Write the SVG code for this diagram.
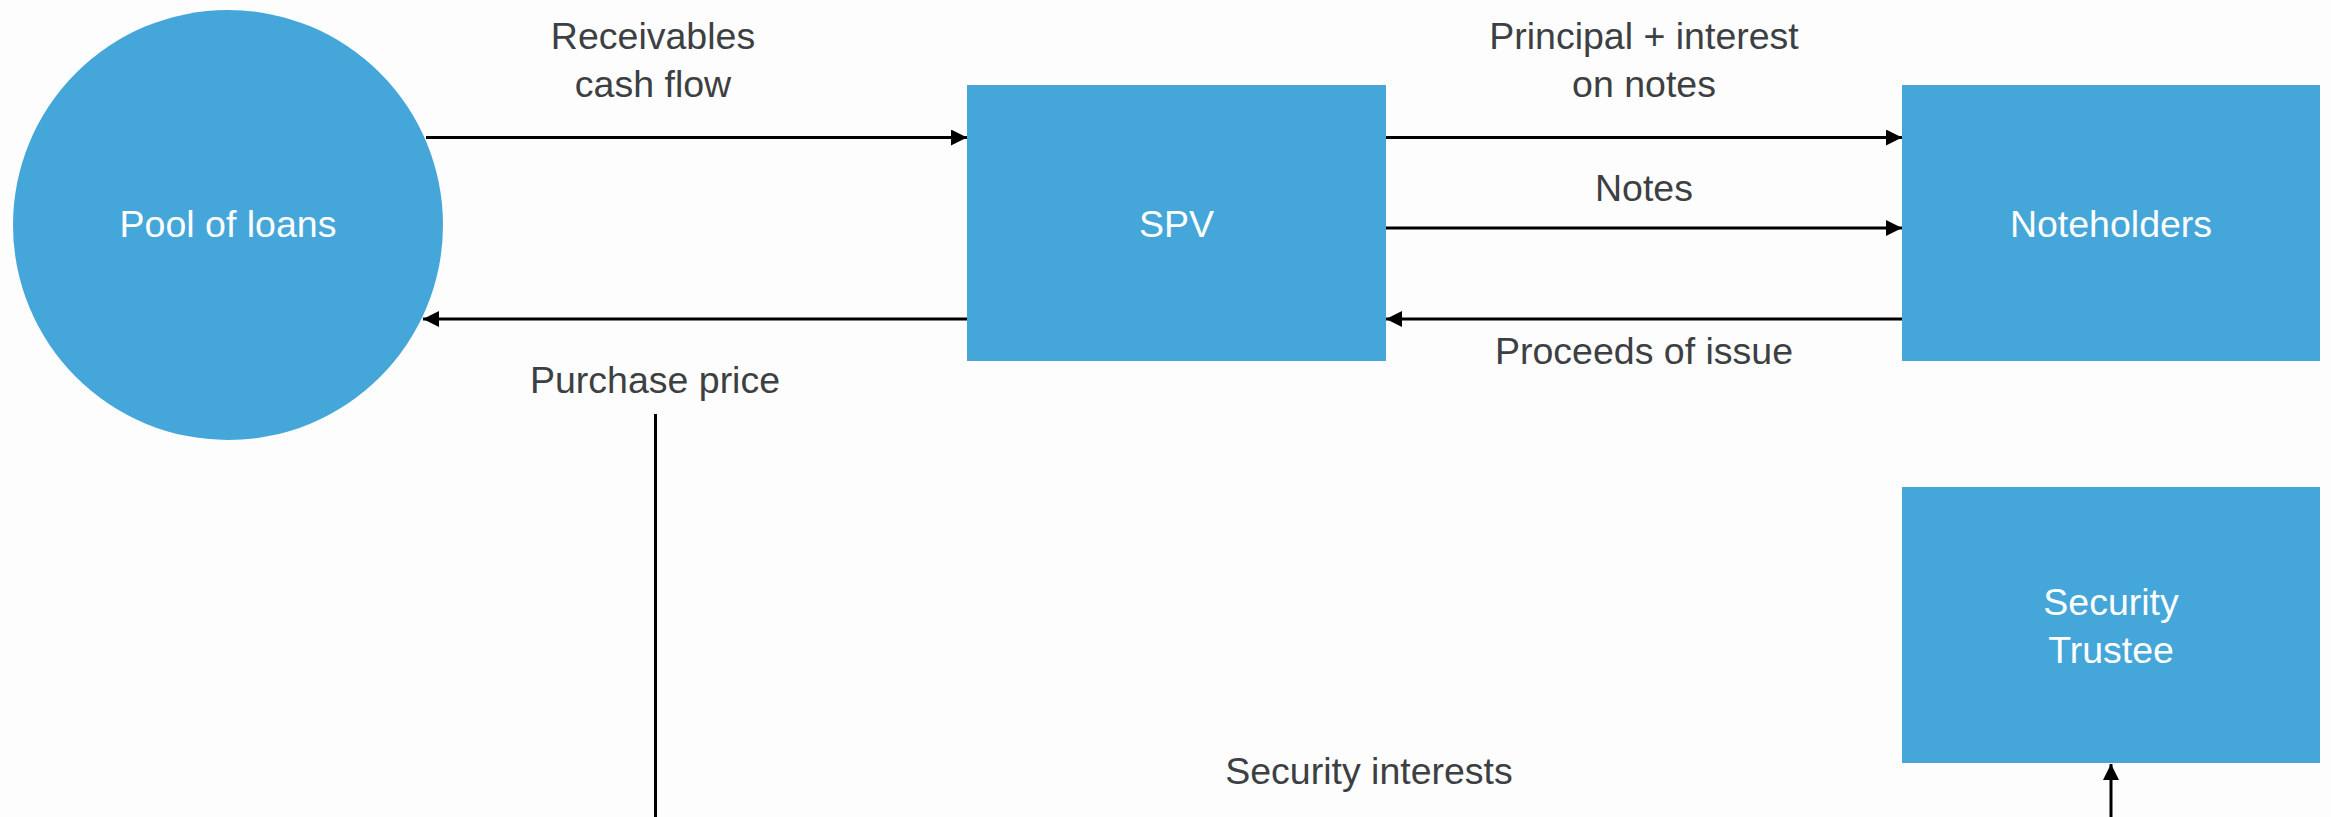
<svg xmlns="http://www.w3.org/2000/svg" width="2331" height="817" viewBox="0 0 2331 817">
  <style>
    .node { fill: #45a6d9; }
    .node-label { font-family: "Liberation Sans", Arial, sans-serif; font-size: 37.5px; fill: #ffffff; text-anchor: middle; }
    .edge-label { font-family: "Liberation Sans", Arial, sans-serif; font-size: 37.5px; fill: #3c4043; text-anchor: middle; }
    .edge { stroke: #000000; stroke-width: 3; fill: none; }
  </style>
  <defs>
    <marker id="arrow" viewBox="0 0 16 16" refX="16" refY="8" markerWidth="16" markerHeight="16" markerUnits="userSpaceOnUse" orient="auto">
      <path d="M0,0 L16,8 L0,16 Z" fill="#000000"/>
    </marker>
  </defs>
  <rect width="2331" height="817" fill="#fdfdfd"/>

  <g id="pool-of-loans">
    <circle class="node" cx="228" cy="225" r="215"/>
    <text class="node-label" x="228" y="237">Pool of loans</text>
  </g>

  <g id="spv">
    <rect class="node" x="967" y="85" width="419" height="276"/>
    <text class="node-label" x="1176.5" y="237">SPV</text>
  </g>

  <g id="noteholders">
    <rect class="node" x="1902" y="85" width="418" height="276"/>
    <text class="node-label" x="2111" y="237">Noteholders</text>
  </g>

  <g id="security-trustee">
    <rect class="node" x="1902" y="487" width="418" height="276"/>
    <text class="node-label" x="2111" y="615">Security</text>
    <text class="node-label" x="2111" y="663">Trustee</text>
  </g>

  <g id="connectors">
    <line class="edge" x1="426" y1="137.5" x2="967" y2="137.5" marker-end="url(#arrow)"/>
    <line class="edge" x1="967" y1="319" x2="423" y2="319" marker-end="url(#arrow)"/>
    <line class="edge" x1="1386" y1="137.5" x2="1902" y2="137.5" marker-end="url(#arrow)"/>
    <line class="edge" x1="1386" y1="228" x2="1902" y2="228" marker-end="url(#arrow)"/>
    <line class="edge" x1="1902" y1="319" x2="1386" y2="319" marker-end="url(#arrow)"/>
    <line class="edge" x1="655.5" y1="414" x2="655.5" y2="817"/>
    <line class="edge" x1="2111" y1="817" x2="2111" y2="764" marker-end="url(#arrow)"/>

    <text class="edge-label" x="653" y="49">Receivables</text>
    <text class="edge-label" x="653" y="97">cash flow</text>
    <text class="edge-label" x="655" y="393">Purchase price</text>
    <text class="edge-label" x="1644" y="49">Principal + interest</text>
    <text class="edge-label" x="1644" y="97">on notes</text>
    <text class="edge-label" x="1644" y="201">Notes</text>
    <text class="edge-label" x="1644" y="364">Proceeds of issue</text>
    <text class="edge-label" x="1369" y="784">Security interests</text>
  </g>
</svg>
